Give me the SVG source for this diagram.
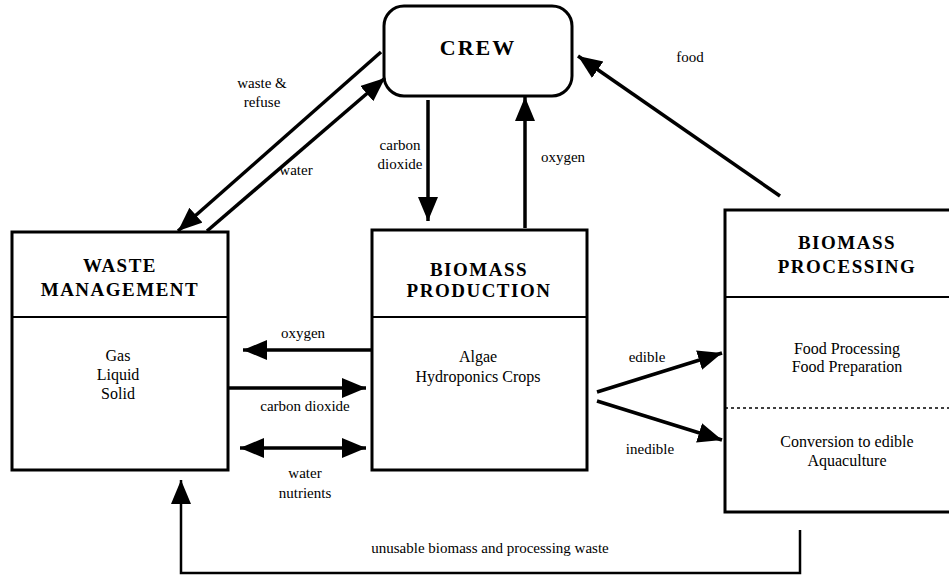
<svg xmlns="http://www.w3.org/2000/svg" width="949" height="578" viewBox="0 0 949 578">
<style>
.box{fill:#fff;stroke:#000;stroke-width:3}
.div{stroke:#000;stroke-width:2;fill:none}
.dot{stroke:#000;stroke-width:1.5;stroke-dasharray:3 3;fill:none}
.title{font-family:"Liberation Serif",serif;font-weight:bold;font-size:19px;letter-spacing:1.5px;text-anchor:middle;fill:#000}
.crew{font-family:"Liberation Serif",serif;font-weight:bold;font-size:22px;letter-spacing:2px;text-anchor:middle;fill:#000}
.body{font-family:"Liberation Serif",serif;font-size:16px;text-anchor:middle;fill:#000}
.lbl{font-family:"Liberation Serif",serif;font-size:15px;text-anchor:middle;fill:#000}
.arr{stroke:#000;stroke-width:3.5;fill:none}
</style>
<defs>
<marker id="ah" markerUnits="userSpaceOnUse" markerWidth="26" markerHeight="22" refX="24" refY="10" orient="auto">
<path d="M0,0 L24,10 L0,20 Z" fill="#000"/>
</marker>
<marker id="ahs" markerUnits="userSpaceOnUse" markerWidth="26" markerHeight="22" refX="0" refY="10" orient="auto">
<path d="M24,0 L0,10 L24,20 Z" fill="#000"/>
</marker>
</defs>

<g id="crew">
<rect class="box" x="384" y="6" width="188" height="90" rx="20"/>
<text class="crew" x="478" y="55">CREW</text>
</g>

<g id="waste-management">
<rect class="box" x="12" y="232" width="216" height="238"/>
<line class="div" x1="12" y1="317" x2="228" y2="317"/>
<text class="title" x="120" y="272">WASTE</text>
<text class="title" x="120" y="296">MANAGEMENT</text>
<text class="body" x="118" y="361">Gas</text>
<text class="body" x="118" y="380">Liquid</text>
<text class="body" x="118" y="399">Solid</text>
</g>

<g id="biomass-production">
<rect class="box" x="372" y="230" width="215" height="240"/>
<line class="div" x1="372" y1="317" x2="587" y2="317"/>
<text class="title" x="479" y="276">BIOMASS</text>
<text class="title" x="479" y="297">PRODUCTION</text>
<text class="body" x="478" y="362">Algae</text>
<text class="body" x="478" y="382">Hydroponics Crops</text>
</g>

<g id="biomass-processing">
<rect class="box" x="725" y="210" width="270" height="302"/>
<line class="div" x1="725" y1="297" x2="949" y2="297"/>
<line class="dot" x1="725" y1="408" x2="949" y2="408"/>
<text class="title" x="847" y="249">BIOMASS</text>
<text class="title" x="847" y="273">PROCESSING</text>
<text class="body" x="847" y="354">Food Processing</text>
<text class="body" x="847" y="372">Food Preparation</text>
<text class="body" x="847" y="447">Conversion to edible</text>
<text class="body" x="847" y="466">Aquaculture</text>
</g>

<g id="connectors">
<line class="arr" x1="381" y1="52" x2="178" y2="231" marker-end="url(#ah)"/>
<line class="arr" x1="207" y1="231" x2="385" y2="78" marker-end="url(#ah)"/>
<line class="arr" x1="428" y1="100" x2="428" y2="221" marker-end="url(#ah)"/>
<line class="arr" x1="525" y1="228" x2="525" y2="97" marker-end="url(#ah)"/>
<line class="arr" x1="780" y1="196" x2="578" y2="56" marker-end="url(#ah)"/>
<line class="arr" x1="372" y1="350" x2="243" y2="350" marker-end="url(#ah)"/>
<line class="arr" x1="228" y1="388" x2="366" y2="388" marker-end="url(#ah)"/>
<line class="arr" x1="240" y1="448" x2="366" y2="448" marker-start="url(#ahs)" marker-end="url(#ah)"/>
<line class="arr" x1="597" y1="392" x2="722" y2="353" marker-end="url(#ah)"/>
<line class="arr" x1="597" y1="401" x2="722" y2="440" marker-end="url(#ah)"/>
<polyline class="arr" style="stroke-width:2.5" points="800,530 800,573 181,573 181,480" marker-end="url(#ah)"/>
</g>

<g id="labels">
<text class="lbl" x="262" y="88">waste &amp;</text>
<text class="lbl" x="262" y="107">refuse</text>
<text class="lbl" x="296" y="175">water</text>
<text class="lbl" x="400" y="150">carbon</text>
<text class="lbl" x="400" y="169">dioxide</text>
<text class="lbl" x="563" y="162">oxygen</text>
<text class="lbl" x="690" y="62">food</text>
<text class="lbl" x="303" y="338">oxygen</text>
<text class="lbl" x="305" y="411">carbon dioxide</text>
<text class="lbl" x="305" y="478">water</text>
<text class="lbl" x="305" y="498">nutrients</text>
<text class="lbl" x="647" y="362">edible</text>
<text class="lbl" x="650" y="454">inedible</text>
<text class="lbl" x="490" y="553">unusable biomass and processing waste</text>
</g>
</svg>
